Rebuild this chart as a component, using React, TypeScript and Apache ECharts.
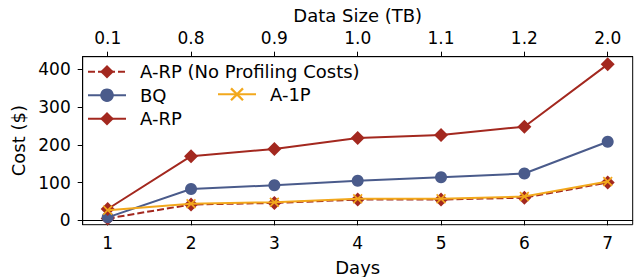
import React, { useEffect, useRef } from "react";
import * as echarts from "echarts";

const days = [1, 2, 3, 4, 5, 6, 7];
const dataSizes = ["0.1", "0.8", "0.9", "1.0", "1.1", "1.2", "2.0"];
const yTicks = [0, 100, 200, 300, 400];

const arpNoProfiling = [5, 42, 46, 55, 55, 60, 100];
const bq = [8, 83, 93, 105, 114, 124, 208];
const arp = [30, 170, 189, 218, 226, 248, 413];
const a1p = [27, 44, 48, 57, 57, 63, 103];

const RED = "#a3281f";
const BLUE = "#4a5b8b";
const ORANGE = "#f2a81c";
const FONT = "DejaVu Sans";

const xPath = "path://M0,1.2 L1.2,0 L5,3.8 L8.8,0 L10,1.2 L6.2,5 L10,8.8 L8.8,10 L5,6.2 L1.2,10 L0,8.8 L3.8,5 Z";

const pairs = (ys: number[]) => days.map((d, i) => [d, ys[i]]);

export default function App() {
  const ref = useRef<HTMLDivElement>(null);
  useEffect(() => {
    if (!ref.current) return;
    const chart = echarts.init(ref.current, null, { renderer: "svg" });
    const tickText = { color: "#000", fontFamily: FONT, fontSize: 17 };
    const titleText = { color: "#000", fontFamily: FONT, fontSize: 18 };
    chart.setOption({
      animation: false,
      grid: {
        left: 82.7,
        right: 6.3,
        top: 56.7,
        bottom: 52.3,
        containLabel: false,
        outerBoundsMode: "none",
        show: true,
        borderColor: "#000",
        borderWidth: 1,
      },
      legend: [
        {
          orient: "vertical",
          left: 87,
          top: 62.7,
          padding: 0,
          itemWidth: 38,
          itemHeight: 17,
          itemGap: 5.5,
          data: ["A-RP (No Profiling Costs)", "BQ", "A-RP"],
          textStyle: { ...titleText, padding: [0, 0, 0, 9] },
        },
        {
          orient: "vertical",
          left: 217,
          top: 85.3,
          padding: 0,
          itemWidth: 38,
          itemHeight: 17,
          data: ["A-1P"],
          textStyle: { ...titleText, padding: [0, 0, 0, 9] },
        },
      ],
      xAxis: [
        {
          type: "value",
          min: 0.7,
          max: 7.3,
          position: "bottom",
          name: "Days",
          nameLocation: "middle",
          nameGap: 34,
          nameTextStyle: titleText,
          axisLine: { show: true, lineStyle: { color: "#000" } },
          axisTick: { show: true, length: 5, customValues: days, lineStyle: { color: "#000" } },
          axisLabel: { ...tickText, margin: 10, customValues: days, formatter: (v: number) => String(v) },
          splitLine: { show: false },
        },
        {
          type: "value",
          min: 0.7,
          max: 7.3,
          position: "top",
          name: "Data Size (TB)",
          nameLocation: "middle",
          nameGap: 32,
          nameTextStyle: titleText,
          axisLine: { show: true, lineStyle: { color: "#000" } },
          axisTick: { show: true, length: 5, customValues: days, lineStyle: { color: "#000" } },
          axisLabel: {
            ...tickText,
            margin: 10,
            customValues: days,
            formatter: (v: number) => dataSizes[Math.round(v) - 1] ?? "",
          },
          splitLine: { show: false },
        },
      ],
      yAxis: {
        type: "value",
        min: -11.5,
        max: 433.3,
        name: "Cost ($)",
        nameLocation: "middle",
        nameGap: 53,
        nameTextStyle: titleText,
        axisLine: { show: true, lineStyle: { color: "#000" } },
        axisTick: { show: true, length: 5, customValues: yTicks, lineStyle: { color: "#000" } },
        axisLabel: { ...tickText, margin: 12, customValues: yTicks, formatter: (v: number) => String(v) },
        splitLine: { show: false },
      },
      series: [
        {
          name: "A-RP (No Profiling Costs)",
          type: "line",
          data: pairs(arpNoProfiling),
          symbol: "diamond",
          symbolSize: 14,
          itemStyle: { color: RED },
          lineStyle: { color: RED, width: 2, type: [7, 3] },
          z: 2,
        },
        {
          name: "BQ",
          type: "line",
          data: pairs(bq),
          symbol: "circle",
          symbolSize: 12,
          itemStyle: { color: BLUE },
          lineStyle: { color: BLUE, width: 2 },
          z: 3,
        },
        {
          name: "A-RP",
          type: "line",
          data: pairs(arp),
          symbol: "diamond",
          symbolSize: 14,
          itemStyle: { color: RED },
          lineStyle: { color: RED, width: 2 },
          z: 4,
        },
        {
          name: "A-1P",
          type: "line",
          data: pairs(a1p),
          symbol: xPath,
          symbolSize: 10,
          itemStyle: { color: ORANGE },
          lineStyle: { color: ORANGE, width: 2 },
          z: 5,
        },
      ],
    });
    return () => chart.dispose();
  }, []);
  return (
    <div
      ref={ref}
      style={{ position: "fixed", left: 0, top: 0, width: 639, height: 277, background: "#fff" }}
    />
  );
}
